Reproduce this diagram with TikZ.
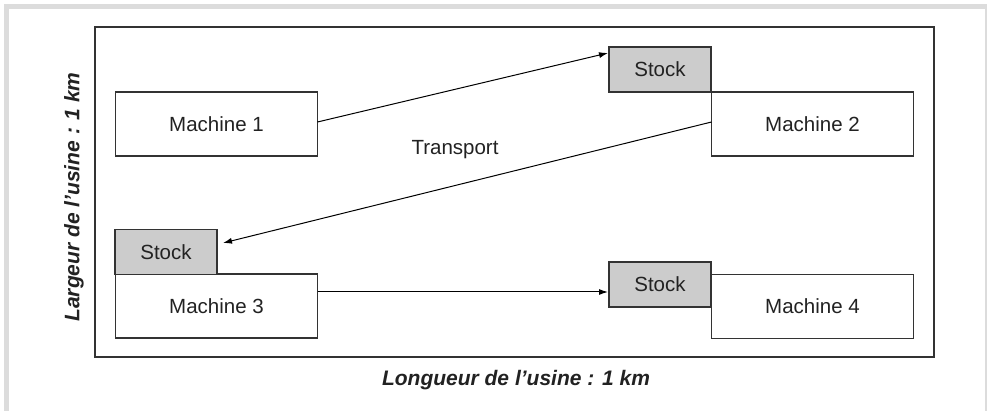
\documentclass[tikz,border=0pt]{standalone}
\usepackage{fontspec}
\setmainfont{Liberation Sans}
\usetikzlibrary{arrows.meta}
\definecolor{framegray}{HTML}{DCDCDC}
\definecolor{stockgray}{HTML}{CCCCCC}
\definecolor{edge}{HTML}{333333}
\definecolor{ink}{HTML}{222222}
\tikzset{
  box/.style={draw=edge, line width=1.5pt, fill=white, inner sep=0pt, outer sep=0pt,
    text=ink, font=\fontsize{20.5}{24}\selectfont},
  machine/.style={box, minimum width=202pt, minimum height=64pt},
  stockbox/.style={box, fill=stockgray, minimum width=102pt, minimum height=45pt},
  flow/.style={draw=black, line width=1pt, -{Latex[length=9pt,width=6pt]}},
  axislabel/.style={text=ink, font=\fontsize{21}{25}\selectfont\bfseries\itshape},
}
\begin{document}
\begin{tikzpicture}[x=1pt,y=-1pt]
  \useasboundingbox (0,0) rectangle (989,411);
  % page frame, open at the bottom
  \fill[framegray] (4,4) rectangle (987,411);
  \fill[white] (9,9) rectangle (985,411);
  % factory floor
  \draw[edge, line width=1.5pt] (95,27) rectangle (934,357);

  % machines
  \node[machine] (m1) at (216.5,124) {Machine 1};
  \node[machine] (m2) at (812.5,124) {Machine 2};
  \node[machine] (m3) at (216.5,306) {Machine 3};
  \node[machine] (m4) at (812.5,306.5) {Machine 4};

  % buffer stocks
  \node[stockbox] (s2) at (660,69.5) {Stock};
  \node[stockbox] (s3) at (166,252) {Stock};
  \node[stockbox] (s4) at (660,284.5) {Stock};

  % material flows
  \draw[flow] ([yshift=2pt]m1.east) -- ([xshift=-1pt,yshift=-6pt]s2.north west);
  \draw[flow] ([yshift=2pt]m2.west) -- ([xshift=6pt,yshift=9pt]s3.east);
  \draw[flow] ([yshift=14pt]m3.east) -- ([xshift=-1pt,yshift=-7.5pt]s4.west);
  \node[text=ink, font=\fontsize{20.5}{24}\selectfont] (tr) at (455,150) {Transport};

  % dimensions
  \node[axislabel] (len) at (516,380) {Longueur de l’usine : 1 km};
  \node[axislabel, rotate=90] (wid) at (74,197) {Largeur de l’usine : 1 km};
\end{tikzpicture}
\end{document}
